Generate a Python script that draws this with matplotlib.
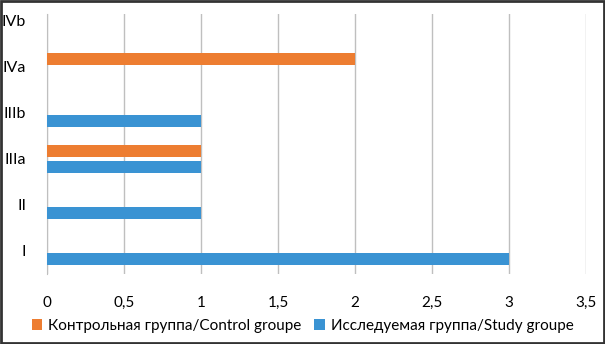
import matplotlib
matplotlib.use("Agg")
import matplotlib.pyplot as plt
from matplotlib.patches import Rectangle
import numpy as np

categories = ["I", "II", "IIIa", "IIIb", "IVa", "IVb"]
control = [0, 0, 1, 0, 2, 0]
study = [3, 1, 1, 1, 0, 0]
xticks = [0, 0.5, 1, 1.5, 2, 2.5, 3, 3.5]
xtick_labels = ["0", "0,5", "1", "1,5", "2", "2,5", "3", "3,5"]

plt.rcParams['font.family'] = ['Lato', 'DejaVu Sans']

W, H = 605, 344
fig = plt.figure(figsize=(W/100, H/100), dpi=100)
ax = fig.add_axes([47/W, 1-274/H, (586-47)/W, (274-14)/H])

y = np.arange(len(categories))
h = 0.26
off = 0.17
ax.barh(y + off, control, height=h, color="#ED7D31", label="Контрольная группа/Control groupe", zorder=3)
ax.barh(y - off, study, height=h, color="#3A93D3", label="Исследуемая группа/Study groupe", zorder=3)

ax.set_xlim(0, 3.5)
ax.set_ylim(-0.5, 5.15)
ax.set_xticks(xticks)
ax.set_xticklabels(xtick_labels, fontsize=11)
ax.set_yticks(y)
ax.set_yticklabels(categories, fontsize=11.5)
ax.tick_params(axis='both', length=0)
ax.tick_params(axis='y', pad=15)
ax.tick_params(axis='x', pad=16)
ax.grid(axis='x', color="#BFBFBF", linewidth=1, zorder=0)
for s in ["top", "right", "bottom"]:
    ax.spines[s].set_visible(False)
ax.spines["left"].set_color("#BFBFBF")

leg = fig.legend(loc="center", bbox_to_anchor=(0.5, 1-326/H), ncol=2, frameon=False,
                 fontsize=11, handlelength=0.7, handleheight=0.7, handletextpad=0.4,
                 columnspacing=0.8)

fig.patches.append(Rectangle((0.0015, 0.0025), 0.997, 0.995, transform=fig.transFigure,
                             fill=False, edgecolor="#333333", linewidth=2))

fig.savefig("out.png", dpi=100)
